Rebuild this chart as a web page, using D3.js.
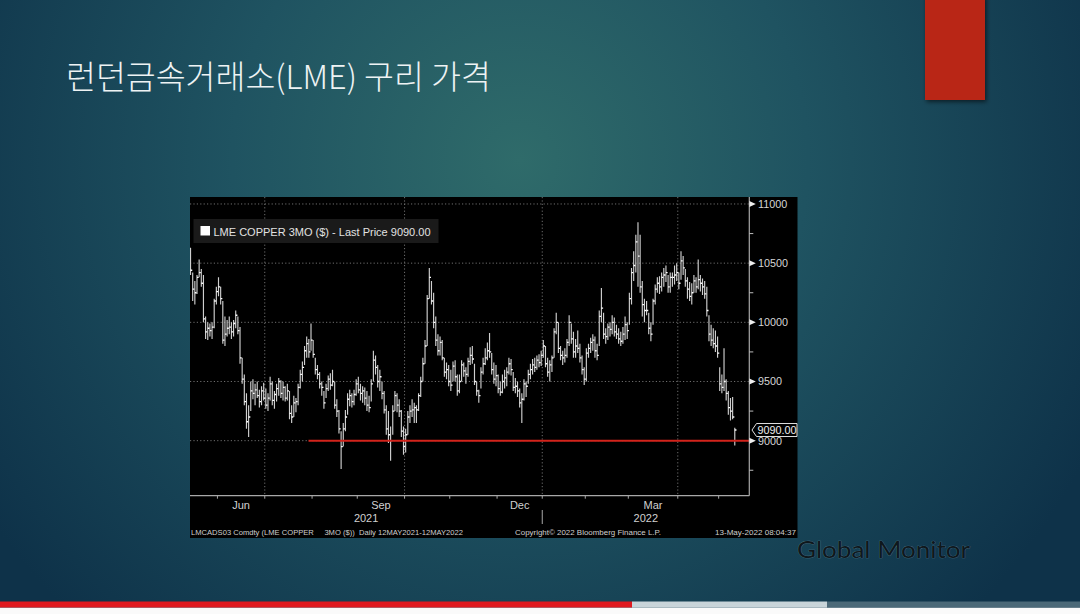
<!DOCTYPE html>
<html><head><meta charset="utf-8">
<script src="https://cdn.jsdelivr.net/npm/d3@7/dist/d3.min.js"></script>
<style>html,body{margin:0;padding:0;background:#fff;overflow:hidden}</style>
</head><body><svg id="c" width="1080" height="614"></svg>
<script>
// ---------------- DATA ----------------
const titleText = "런던금속거래소(LME) 구리 가격";
const legendText = "LME COPPER 3MO ($) - Last Price 9090.00";
const footerLeft = "LMCADS03 Comdty (LME COPPER     3MO ($))  Daily 12MAY2021-12MAY2022";
const footerMid = "Copyright\u00A9 2022 Bloomberg Finance L.P.";
const footerRight = "13-May-2022 08:04:37";
const brandText = "Global Monitor";
const startDate = "2021-05-12", endDate = "2022-05-12";
const holidays = ["2021-05-31","2021-08-30","2021-12-27","2021-12-28","2022-01-03","2022-04-15","2022-04-18","2022-05-02"];
const closes = [
10440,10280,10250,10380,10420,10330,10030,9920,9950,9930,
9960,10180,10260,10300,10200,9850,9900,9950,9960,9920,
9990,10060,9930,9700,9520,9330,9160,9200,9420,9400,
9430,9380,9330,9420,9360,9300,9360,9480,9340,9390,
9440,9500,9400,9450,9360,9420,9230,9200,9320,9330,
9450,9560,9620,9760,9820,9750,9850,9730,9600,9560,
9480,9450,9320,9440,9520,9470,9500,9300,9250,9100,
8950,9100,9200,9350,9380,9330,9390,9480,9430,9400,
9420,9360,9300,9280,9480,9680,9620,9500,9540,9400,
9260,9100,9050,9000,9250,9380,9300,9250,9080,8950,
9050,9200,9250,9260,9280,9260,9380,9500,9650,9800,
10200,10380,10180,10000,9850,9760,9830,9700,9580,9600,
9500,9470,9630,9540,9420,9500,9640,9590,9560,9670,
9720,9690,9500,9420,9380,9580,9650,9700,9760,9750,
9600,9520,9550,9440,9410,9500,9530,9580,9650,9600,
9450,9460,9420,9320,9350,9480,9460,9560,9600,9640,
9620,9680,9660,9720,9800,9650,9580,9640,9700,9920,
10000,9780,9720,9700,9720,9830,10000,9860,9750,9800,
9780,9700,9600,9520,9740,9780,9830,9850,9760,9720,
10050,10120,9900,9880,9960,9940,10000,9920,9900,9860,
9840,9900,9980,9930,10200,10420,10480,10680,10560,10300,
10150,10100,10100,9950,9900,10180,10280,10330,10300,10380,
10400,10420,10300,10380,10380,10400,10420,10330,10520,10460,
10350,10280,10220,10250,10350,10300,10360,10330,10300,10240,
10100,9900,9850,9820,9800,9740,9480,9450,9500,9400,
9280,9250,9200,9090];
const highs = [
10630,10420,10350,10400,10530,10450,10400,10050,10000,9990,
10000,10200,10300,10380,10300,10180,10050,10020,10050,10000,
10020,10100,10050,9960,9700,9560,9400,9300,9500,9520,
9480,9500,9430,9460,9490,9440,9400,9540,9500,9420,
9480,9530,9510,9500,9460,9480,9420,9300,9380,9360,
9480,9600,9670,9800,9880,9860,9990,9850,9700,9640,
9580,9500,9420,9480,9550,9570,9600,9500,9350,9260,
9080,9150,9260,9400,9430,9400,9430,9520,9540,9480,
9460,9450,9420,9380,9520,9760,9720,9640,9600,9500,
9420,9300,9250,9120,9300,9420,9400,9350,9260,9120,
9100,9250,9300,9350,9320,9300,9400,9540,9700,9850,
10230,10460,10350,10250,10050,9900,9880,9850,9700,9660,
9640,9600,9670,9680,9560,9560,9680,9660,9620,9700,
9790,9800,9650,9500,9430,9620,9700,9780,9830,9910,
9740,9660,9640,9560,9500,9560,9600,9620,9700,9690,
9580,9530,9500,9440,9400,9520,9500,9600,9650,9690,
9700,9720,9730,9760,9850,9800,9700,9680,9720,9950,
10080,10000,9800,9760,9780,9860,10060,9990,9920,9860,
9930,9820,9720,9620,9780,9820,9870,9900,9880,9820,
10100,10290,10080,9950,9990,10000,10060,10040,9980,9950,
9920,9960,10050,10000,10250,10460,10600,10740,10845,10740,
10350,10200,10180,10080,10000,10200,10320,10380,10390,10420,
10460,10480,10400,10420,10420,10480,10500,10420,10600,10560,
10450,10380,10340,10330,10400,10380,10530,10400,10370,10350,
10300,10060,9980,9950,9930,9880,9620,9560,9780,9520,
9420,9360,9370,9110];
const lows = [
10400,10180,10150,10240,10380,10300,10000,9860,9850,9880,
9860,9950,10150,10220,10150,9820,9800,9880,9900,9860,
9880,9950,9900,9650,9480,9300,9100,9030,9250,9350,
9300,9360,9280,9300,9340,9270,9250,9340,9300,9270,
9330,9380,9360,9340,9330,9340,9180,9150,9200,9240,
9300,9440,9500,9640,9700,9700,9760,9700,9560,9520,
9440,9380,9270,9360,9420,9430,9460,9270,9200,9060,
8760,8950,9080,9220,9290,9280,9300,9380,9400,9340,
9320,9300,9250,9240,9330,9500,9560,9450,9420,9350,
9230,9050,8980,8830,9050,9250,9240,9200,9030,8880,
8900,9050,9150,9200,9150,9150,9250,9370,9500,9650,
9800,10200,10150,9950,9800,9720,9720,9680,9540,9520,
9460,9420,9500,9500,9380,9400,9500,9540,9480,9540,
9640,9650,9470,9380,9320,9440,9560,9640,9680,9700,
9560,9480,9460,9400,9380,9400,9440,9460,9560,9550,
9420,9400,9370,9280,9150,9340,9370,9480,9520,9560,
9580,9600,9620,9630,9700,9620,9540,9500,9580,9700,
9900,9740,9680,9640,9660,9700,9800,9820,9700,9700,
9740,9660,9560,9470,9500,9700,9740,9760,9700,9680,
9800,10000,9860,9820,9850,9880,9900,9880,9860,9820,
9800,9820,9850,9860,9980,10150,10350,10420,10300,10250,
10050,10000,10060,9900,9840,9980,10150,10250,10240,10260,
10300,10340,10250,10250,10300,10320,10350,10280,10360,10400,
10300,10200,10180,10150,10250,10250,10280,10260,10230,10200,
10050,9840,9800,9780,9750,9700,9420,9400,9420,9340,
9220,9170,9180,8960];
const yMajorTicks = [9000, 9500, 10000, 10500, 11000];
const yMinorTicks = [8750, 9250, 9750, 10250, 10750];
const monthLabels = ["Jun", "Sep", "Dec", "Mar"];
const gridMonths = ["Jul", "Oct", "Jan", "Apr"];
const lastPrice = 9090.00;
const refLevel = 9000;

// ---------------- LAYOUT ----------------
const W = 1080, H = 614;
const box = {x: 190, y: 197, w: 607.5, h: 341};
const plot = {l: 190, r: 749.3, t: 197, b: 495.7};
const svg = d3.select("#c");
const defs = svg.append("defs");

const rg = defs.append("radialGradient").attr("id", "bg")
  .attr("gradientUnits", "userSpaceOnUse").attr("cx", 520).attr("cy", 160).attr("r", 640);
[[0, "#2f6b6a"], [0.45, "#1f5361"], [1, "#0e3249"]].forEach(([o, c]) =>
  rg.append("stop").attr("offset", o).attr("stop-color", c));
const sh = defs.append("filter").attr("id", "sh").attr("x", "-30%").attr("y", "-30%").attr("width", "160%").attr("height", "160%");
sh.append("feDropShadow").attr("dx", 1.5).attr("dy", 2).attr("stdDeviation", 2)
  .attr("flood-color", "#000").attr("flood-opacity", 0.55);
defs.append("clipPath").attr("id", "pc").append("rect")
  .attr("x", plot.l).attr("y", plot.t).attr("width", plot.r - plot.l).attr("height", plot.b - plot.t);

svg.append("rect").attr("width", W).attr("height", H).attr("fill", "url(#bg)");

// red accent block
svg.append("rect").attr("x", 925).attr("y", -5).attr("width", 60).attr("height", 105)
  .attr("fill", "#b92815").attr("filter", "url(#sh)");

// title
svg.append("text").attr("x", 66).attr("y", 89).text(titleText)
  .attr("font-family", "'Noto Sans CJK KR','Noto Sans',sans-serif")
  .attr("font-size", 32.5).attr("font-weight", 300).attr("fill", "#eef3f4");

// chart box
svg.append("rect").attr("x", box.x).attr("y", box.y).attr("width", box.w).attr("height", box.h).attr("fill", "#000");

// trading dates
const fmt = d3.timeFormat("%Y-%m-%d");
const parse = d3.timeParse("%Y-%m-%d");
const dates = d3.timeDay.range(parse(startDate), d3.timeDay.offset(parse(endDate), 1))
  .filter(d => d.getDay() % 6 !== 0 && !holidays.includes(fmt(d)));
const n = closes.length;

const x = d3.scaleLinear().domain([-0.25, 259.75]).range([plot.l, plot.r]);
const y = d3.scaleLinear().domain([8535, 11059]).range([plot.b, plot.t]);

// month boundaries
const monthFmt = d3.timeFormat("%b");
const monthStarts = [];
for (let i = 1; i < n; i++) {
  if (dates[i].getMonth() !== dates[i - 1].getMonth()) monthStarts.push({i: i - 0.5, d: dates[i]});
}
const monthGroups = d3.groups(d3.range(n), i => fmt(dates[i]).slice(0, 7));

const chartFont = "'Liberation Sans', Arial, sans-serif";
const g = svg.append("g");

// grid
g.selectAll(".hg").data(yMajorTicks).join("line")
  .attr("x1", plot.l).attr("x2", plot.r).attr("y1", d => y(d)).attr("y2", d => y(d))
  .attr("stroke", "#6e6e6e").attr("stroke-width", 1).attr("stroke-dasharray", "1.2,2.2");
g.selectAll(".vg").data(monthStarts.filter(m => gridMonths.includes(monthFmt(m.d)))).join("line")
  .attr("x1", d => x(d.i)).attr("x2", d => x(d.i)).attr("y1", plot.t).attr("y2", plot.b)
  .attr("stroke", "#6e6e6e").attr("stroke-width", 1).attr("stroke-dasharray", "1.2,2.2");

// bars
const bars = g.append("g").attr("clip-path", "url(#pc)");
const idx = d3.range(n);
bars.selectAll(".hl").data(idx).join("line")
  .attr("x1", i => x(i)).attr("x2", i => x(i))
  .attr("y1", i => y(highs[i])).attr("y2", i => y(lows[i]))
  .attr("stroke", "#cfcfcf").attr("stroke-width", 1.15);
bars.selectAll(".cl").data(idx).join("line")
  .attr("x1", i => x(i)).attr("x2", i => x(i) + 1.7)
  .attr("y1", i => y(closes[i])).attr("y2", i => y(closes[i]))
  .attr("stroke", "#ffffff").attr("stroke-width", 1.3);

// red reference line
g.append("line").attr("x1", 308.5).attr("x2", plot.r).attr("y1", y(refLevel)).attr("y2", y(refLevel))
  .attr("stroke", "#d3231b").attr("stroke-width", 2);

// axes
g.append("line").attr("x1", plot.l).attr("x2", plot.r).attr("y1", plot.b).attr("y2", plot.b)
  .attr("stroke", "#a8a8a8").attr("stroke-width", 1.2);
g.append("line").attr("x1", plot.r).attr("x2", plot.r).attr("y1", plot.t).attr("y2", plot.b)
  .attr("stroke", "#a8a8a8").attr("stroke-width", 1.2);
g.selectAll(".mt").data(monthStarts).join("line")
  .attr("x1", d => x(d.i)).attr("x2", d => x(d.i)).attr("y1", plot.b).attr("y2", plot.b + 3)
  .attr("stroke", "#a8a8a8");
// year separator
monthStarts.filter(m => m.d.getMonth() === 0).forEach(m => {
  g.append("line").attr("x1", x(m.i)).attr("x2", x(m.i)).attr("y1", 510).attr("y2", 524)
    .attr("stroke", "#a8a8a8");
});
// month labels
monthGroups.filter(([k, v]) => monthLabels.includes(monthFmt(dates[v[0]]))).forEach(([k, v]) => {
  g.append("text").attr("x", x((v[0] + v[v.length - 1]) / 2)).attr("y", 509)
    .attr("text-anchor", "middle").attr("font-family", chartFont).attr("font-size", 11)
    .attr("fill", "#d0d0d0").text(monthFmt(dates[v[0]]));
});
// year labels
const janTick = monthStarts.find(m => m.d.getMonth() === 0);
[[String(dates[0].getFullYear()), (plot.l + x(janTick.i)) / 2],
 [String(dates[n - 1].getFullYear()), (x(janTick.i) + plot.r) / 2]].forEach(([t, cx]) => {
  g.append("text").attr("x", cx).attr("y", 522).attr("text-anchor", "middle")
    .attr("font-family", chartFont).attr("font-size", 11).attr("fill", "#d0d0d0").text(t);
});

// y ticks
g.selectAll(".mn").data(yMinorTicks).join("line")
  .attr("x1", plot.r).attr("x2", plot.r + 4).attr("y1", d => y(d)).attr("y2", d => y(d))
  .attr("stroke", "#bbb");
g.selectAll(".mj").data(yMajorTicks).join("path")
  .attr("d", d => `M${plot.r},${y(d) - 3}L${plot.r + 6.5},${y(d)}L${plot.r},${y(d) + 3}Z`)
  .attr("fill", "#eeeeee");
g.selectAll(".yl").data(yMajorTicks).join("text")
  .attr("x", 758).attr("y", d => y(d)).attr("dominant-baseline", "central")
  .attr("font-family", chartFont).attr("font-size", 10.8).attr("fill", "#d6d6d6").text(d => d);

// last price tag
const ly = y(lastPrice);
g.append("path")
  .attr("d", `M752,${ly}L756.5,${ly - 6.5}L797,${ly - 6.5}L797,${ly + 6.5}L756.5,${ly + 6.5}Z`)
  .attr("fill", "#000").attr("stroke", "#e0e0e0").attr("stroke-width", 1);
g.append("text").attr("x", 757.5).attr("y", ly).attr("dominant-baseline", "central")
  .attr("font-family", chartFont).attr("font-size", 10.8).attr("fill", "#eeeeee")
  .text(lastPrice.toFixed(2));

// legend
g.append("rect").attr("x", 193.5).attr("y", 219).attr("width", 245).attr("height", 24).attr("fill", "#1a1a1a");
g.append("rect").attr("x", 200.5).attr("y", 226).attr("width", 9.5).attr("height", 9.5).attr("fill", "#fff");
g.append("text").attr("x", 213.5).attr("y", 235.5).attr("font-family", chartFont)
  .attr("font-size", 11).attr("fill", "#e2e2e2").text(legendText);

// footer
[[footerLeft, 191, 272], [footerMid, 515, 146], [footerRight, 715, 81]].forEach(([t, fx, tl]) => {
  g.append("text").attr("x", fx).attr("y", 535.3).attr("font-family", chartFont)
    .attr("font-size", 7.5).attr("fill", "#cfcfcf").style("white-space", "pre")
    .attr("textLength", tl).attr("lengthAdjust", "spacingAndGlyphs").text(t);
});

// brand
svg.append("text").attr("x", 797).attr("y", 558).text(brandText)
  .attr("font-family", "Lato, 'Open Sans', sans-serif").attr("font-size", 24)
  .attr("fill", "#0f181d").attr("stroke", "rgba(190,215,225,0.35)").attr("stroke-width", 0.7)
  .attr("paint-order", "stroke")
  .attr("textLength", 173).attr("lengthAdjust", "spacingAndGlyphs");

// bottom bar
svg.append("rect").attr("x", 0).attr("y", 607.5).attr("width", W).attr("height", 7).attr("fill", "#fafafa");
[[0, 632, "#e0191f"], [632, 827, "#c8d4d9"], [827, 1080, "#4b6978"]].forEach(([a, b, c]) =>
  svg.append("rect").attr("x", a).attr("y", 601.5).attr("width", b - a).attr("height", 6).attr("fill", c));
</script></body></html>
